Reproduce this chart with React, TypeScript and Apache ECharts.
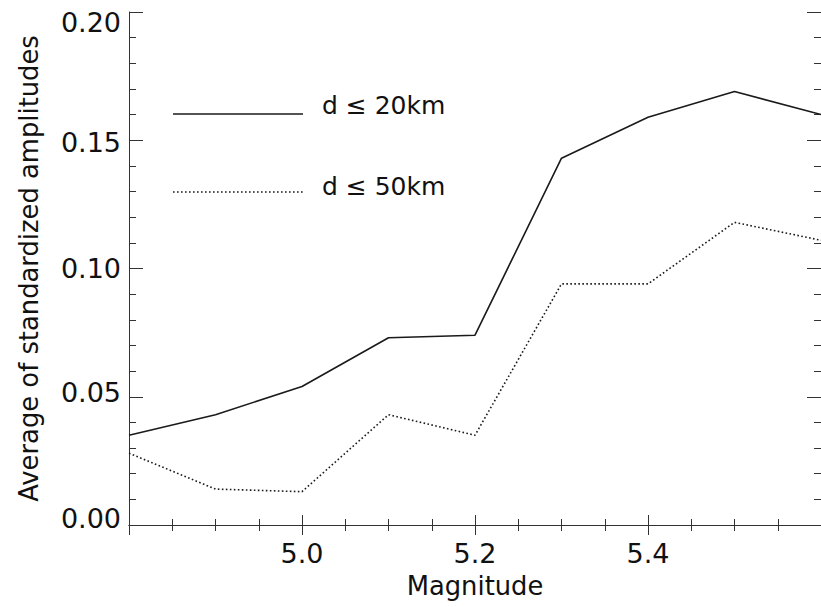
import React, { useEffect, useRef } from "react";
import * as echarts from "echarts";

const magnitudes = [4.8, 4.9, 5.0, 5.1, 5.2, 5.3, 5.4, 5.5, 5.6];
const d20 = [0.035, 0.043, 0.054, 0.073, 0.074, 0.143, 0.159, 0.169, 0.16];
const d50 = [0.028, 0.014, 0.013, 0.043, 0.035, 0.094, 0.094, 0.118, 0.111];
const seriesNames = ["d ≤ 20km", "d ≤ 50km"];
const xTitle = "Magnitude";
const yTitle = "Average of standardized amplitudes";

const FONT = "DejaVu Sans";
const TICK_FS = 27;
const NAME_FS = 25.8;
const LEG_FS = 25;
const INK = "#111";
const LINE = "#1a1a1a";
const DOT: number[] = [1.6, 2.4];

// vertical nudges of the y tick labels (IDL-style labels kept inside the frame)
const yLabelStyle: Record<string, number[]> = {
  "0.20": [20, 0, 0, 0],
  "0.15": [4, 0, 0, 0],
  "0.10": [0, 0, 0, 0],
  "0.05": [0, 0, 8, 0],
  "0.00": [0, 0, 14, 0],
};

export default function App() {
  const ref = useRef<HTMLDivElement>(null);
  useEffect(() => {
    if (!ref.current) return;
    const chart = echarts.init(ref.current, undefined, { renderer: "svg" });
    const axisLine = { show: true, lineStyle: { color: "#333", width: 1 } };
    const xCommon = {
      type: "value" as const,
      min: 4.8,
      max: 5.6,
      interval: 0.2,
      axisLine,
      axisTick: { show: true, inside: true, length: 10, lineStyle: { color: "#333" } },
      minorTick: { show: true, splitNumber: 4, length: 6, lineStyle: { color: "#333" } },
      splitLine: { show: false },
      minorSplitLine: { show: false },
    };
    const yCommon = {
      type: "value" as const,
      min: 0,
      max: 0.2,
      interval: 0.05,
      axisLine,
      axisTick: { show: true, inside: true, length: 14, lineStyle: { color: "#333" } },
      minorTick: { show: true, splitNumber: 5, length: 7, lineStyle: { color: "#333" } },
      splitLine: { show: false },
      minorSplitLine: { show: false },
    };
    const rich: Record<string, any> = {};
    Object.keys(yLabelStyle).forEach((k, i) => {
      rich["r" + i] = {
        fontFamily: FONT,
        fontSize: TICK_FS,
        color: INK,
        padding: yLabelStyle[k],
      };
    });
    const keys = Object.keys(yLabelStyle);
    chart.setOption({
      animation: false,
      backgroundColor: "#fff",
      grid: { left: 129, top: 12, width: 695, height: 513 },
      xAxis: [
        {
          ...xCommon,
          position: "bottom",
          name: xTitle,
          nameLocation: "middle",
          nameGap: 48,
          nameTextStyle: { fontFamily: FONT, fontSize: NAME_FS, color: INK },
          axisLabel: {
            show: true,
            margin: 15,
            fontFamily: FONT,
            fontSize: TICK_FS,
            color: INK,
            showMinLabel: false,
            showMaxLabel: false,
            formatter: (v: number) => v.toFixed(1),
          },
        },
        { ...xCommon, position: "top", axisLabel: { show: false } },
      ],
      yAxis: [
        {
          ...yCommon,
          position: "left",
          name: yTitle,
          nameLocation: "middle",
          nameGap: 87,
          nameTextStyle: { fontFamily: FONT, fontSize: NAME_FS, color: INK },
          axisLabel: {
            show: true,
            margin: 8,
            fontFamily: FONT,
            fontSize: TICK_FS,
            color: INK,
            formatter: (v: number) => {
              const s = v.toFixed(2);
              const i = keys.indexOf(s);
              return i >= 0 ? `{r${i}|${s}}` : s;
            },
            rich,
          },
        },
        { ...yCommon, position: "right", axisLabel: { show: false } },
      ],
      series: [
        {
          name: seriesNames[0],
          type: "line",
          symbol: "none",
          data: magnitudes.map((m, i) => [m, d20[i]]),
          lineStyle: { color: LINE, width: 1.6, type: "solid" },
        },
        {
          name: seriesNames[1],
          type: "line",
          symbol: "none",
          data: magnitudes.map((m, i) => [m, d50[i]]),
          lineStyle: { color: LINE, width: 1.6, type: DOT },
        },
      ],
      graphic: [
        {
          type: "line",
          shape: { x1: 173, y1: 114, x2: 303, y2: 114 },
          style: { stroke: LINE, lineWidth: 1.6 },
        },
        {
          type: "text",
          x: 322,
          y: 105,
          style: {
            text: seriesNames[0],
            fontFamily: FONT,
            fontSize: LEG_FS,
            fill: INK,
            textVerticalAlign: "middle",
          },
        },
        {
          type: "line",
          shape: { x1: 173, y1: 192, x2: 303, y2: 192 },
          style: { stroke: LINE, lineWidth: 1.6, lineDash: DOT },
        },
        {
          type: "text",
          x: 322,
          y: 186,
          style: {
            text: seriesNames[1],
            fontFamily: FONT,
            fontSize: LEG_FS,
            fill: INK,
            textVerticalAlign: "middle",
          },
        },
      ],
    });
    return () => chart.dispose();
  }, []);
  return <div ref={ref} style={{ width: 821, height: 607, position: "absolute", left: 0, top: 0 }} />;
}
